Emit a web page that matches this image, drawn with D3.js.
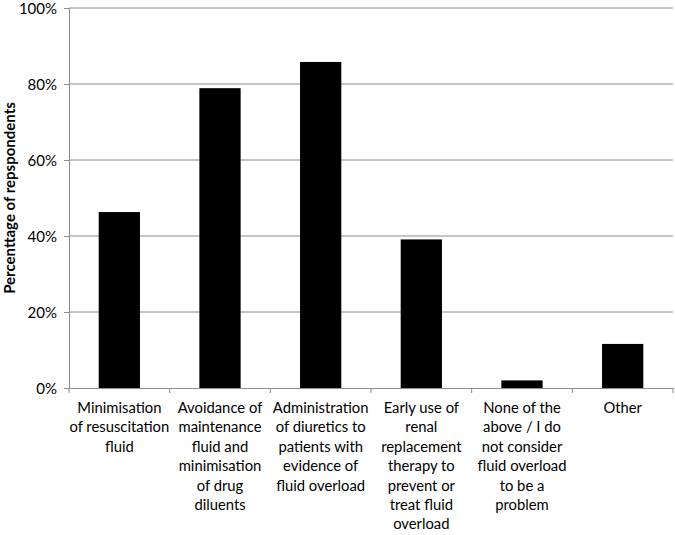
<!DOCTYPE html>
<html>
<head>
<meta charset="utf-8">
<script src="https://cdn.jsdelivr.net/npm/d3@7"></script>
<style>
  html, body { margin: 0; padding: 0; background: #fff; }
  text { font-family: Lato, "Open Sans", sans-serif; fill: #000; }
</style>
</head>
<body>
<svg id="chart" width="675" height="535"></svg>
<script>
const categories = [
  ["Minimisation", "of resuscitation", "fluid"],
  ["Avoidance of", "maintenance", "fluid and", "minimisation", "of drug", "diluents"],
  ["Administration", "of diuretics to", "patients with", "evidence of", "fluid overload"],
  ["Early use of", "renal", "replacement", "therapy to", "prevent or", "treat fluid", "overload"],
  ["None of the", "above / I do", "not consider", "fluid overload", "to be a", "problem"],
  ["Other"]
];
const values = [46.3, 78.9, 85.8, 39.1, 2.0, 11.6];
const yTicks = [0, 20, 40, 60, 80, 100];
const yTitle = "Percenttage of repspondents";

const svg = d3.select("#chart");
const margin = {left: 69, right: 2, top: 8, bottom: 147};
const W = 675, H = 535;
const x = d3.scaleBand().domain(d3.range(categories.length))
  .range([margin.left, W - margin.right]).paddingInner(0.59).paddingOuter(0.295);
const xb = d3.scaleBand().domain(d3.range(categories.length))
  .range([margin.left, W - margin.right]);
const y = d3.scaleLinear().domain([0, 100]).range([H - margin.bottom, margin.top]);

// gridlines
svg.append("g").selectAll("line").data(yTicks.filter(d => d > 0)).join("line")
  .attr("x1", margin.left).attr("x2", W - margin.right)
  .attr("y1", d => y(d)).attr("y2", d => y(d))
  .attr("stroke", "#8c8c8c").attr("stroke-width", 1);

// bars
svg.append("g").selectAll("rect").data(values).join("rect")
  .attr("x", (d, i) => x(i)).attr("width", x.bandwidth())
  .attr("y", d => y(d)).attr("height", d => y(0) - y(d))
  .attr("fill", "#000");

// y axis
const yAxis = d3.axisLeft(y).tickValues(yTicks).tickFormat(d => d + "%").tickSize(5).tickPadding(7);
const gy = svg.append("g").attr("transform", `translate(${margin.left},0)`).call(yAxis);
gy.select(".domain").attr("stroke", "#8c8c8c");
gy.selectAll(".tick line").attr("stroke", "#8c8c8c");
gy.selectAll(".tick text").style("font-family", "Lato, sans-serif").style("font-size", "15px")
  .attr("dy", "0.36em").attr("fill", "#000");

// x axis
const xAxis = d3.axisBottom(xb).tickSize(0).tickFormat("");
const gx = svg.append("g").attr("transform", `translate(0,${y(0)})`).call(xAxis);
gx.select(".domain").attr("stroke", "#8c8c8c");
gx.selectAll(".tick").remove();
// boundary ticks
gx.selectAll("line.bt").data(d3.range(categories.length + 1)).join("line").attr("class", "bt")
  .attr("x1", i => i < categories.length ? xb(i) : xb(categories.length - 1) + xb.bandwidth())
  .attr("x2", i => i < categories.length ? xb(i) : xb(categories.length - 1) + xb.bandwidth())
  .attr("y1", 0).attr("y2", 5).attr("stroke", "#8c8c8c");

// category labels
const lab = svg.append("g").selectAll("text").data(categories).join("text")
  .attr("text-anchor", "middle")
  .style("font-size", "14.8px")
  .attr("transform", (d, i) => `translate(${xb(i) + xb.bandwidth() / 2},${y(0) + 25})`);
lab.selectAll("tspan").data(d => d).join("tspan")
  .attr("x", 0).attr("dy", (d, j) => j === 0 ? 0 : 19.4).text(d => d);

// y title
svg.append("text")
  .attr("transform", `translate(15,${(y(0) + y(100)) / 2}) rotate(-90)`)
  .attr("text-anchor", "middle")
  .style("font-size", "15px").style("font-weight", "bold")
  .text(yTitle);
</script>
</body>
</html>
